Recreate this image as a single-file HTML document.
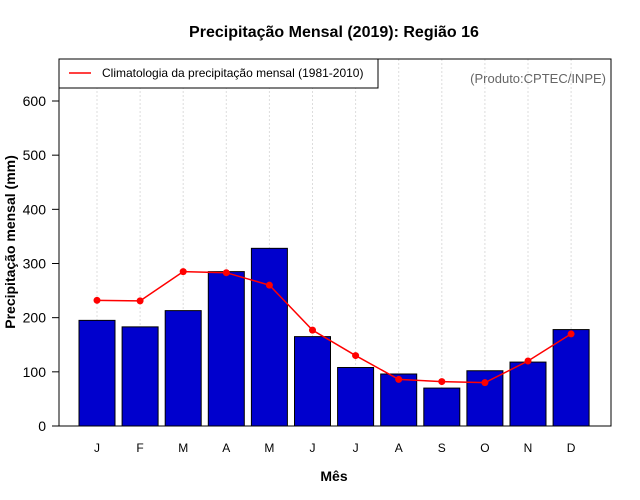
<!DOCTYPE html>
<html><head><meta charset="utf-8"><style>
body{margin:0;background:#fff;}
svg{display:block;font-family:"Liberation Sans",Arial,sans-serif;}
</style></head><body>
<svg id="c" width="640" height="500" xmlns="http://www.w3.org/2000/svg">
<text x="334" y="37" text-anchor="middle" font-size="16" font-weight="bold">Precipitação Mensal (2019): Região 16</text>
<text x="334" y="481" text-anchor="middle" font-size="14" font-weight="bold">Mês</text>
<text transform="translate(15,242) rotate(-90)" text-anchor="middle" font-size="14" font-weight="bold">Precipitação mensal (mm)</text>
<g id="grid"></g><g id="bars"></g><g id="line"></g><g id="axes"></g>
<rect x="59" y="59" width="552" height="367" fill="none" stroke="#000" stroke-width="1"/>
<rect x="59" y="59" width="319" height="29" fill="#fff" stroke="#000" stroke-width="1"/>
<line x1="69" y1="73" x2="91" y2="73" stroke="red" stroke-width="1.5"/>
<text x="102" y="77" font-size="12">Climatologia da precipitação mensal (1981-2010)</text>
<text x="606" y="83" text-anchor="end" font-size="13" fill="#666">(Produto:CPTEC/INPE)</text>
</svg>
<script>
const months=["J","F","M","A","M","J","J","A","S","O","N","D"];
const precip=[195,183,213,285,328,165,108,96,70,102,118,178];
const clim=[232,231,285,283,260,177,130,86,82,80,120,170];
const yTicks=[0,100,200,300,400,500,600];
const NS="http://www.w3.org/2000/svg";
const x=i=>97+i*43.1;
const y=v=>426-v*0.54167;
function mk(t,a,p){const e=document.createElementNS(NS,t);for(const k in a)e.setAttribute(k,a[k]);p.appendChild(e);return e;}
const g=document.getElementById('grid'),b=document.getElementById('bars'),l=document.getElementById('line'),ax=document.getElementById('axes');
months.forEach((m,i)=>{
 const gl=mk('line',{x1:x(i),x2:x(i),y1:59,y2:426,stroke:'#ddd','stroke-dasharray':'2,2'},g);
 
 
 const r=mk('rect',{x:x(i)-18,y:y(precip[i]),width:36,height:426-y(precip[i]),fill:'#0000cd',stroke:'#000','stroke-width':1},b);
 
 
 const t=mk('text',{x:x(i),y:452,'text-anchor':'middle','font-size':12},ax);t.textContent=m;
 
 
});
const pl=mk('polyline',{points:clim.map((v,i)=>x(i)+','+y(v)).join(' '),fill:'none',stroke:'red','stroke-width':1.5},l);


clim.forEach((v,i)=>{const c=mk('circle',{cx:x(i),cy:y(v),r:3.5,fill:'red'},l);
 
 });
yTicks.forEach(v=>{mk('line',{x1:52,x2:59,y1:y(v),y2:y(v),stroke:'#000'},ax);
 const t=mk('text',{x:46,y:y(v)+5,'text-anchor':'end','font-size':14},ax);t.textContent=v;
 
 });
</script>
</body></html>
